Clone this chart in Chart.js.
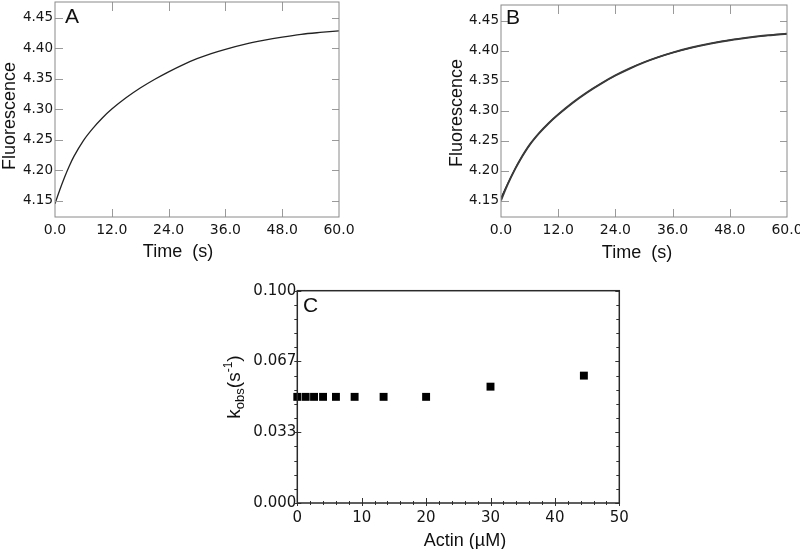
<!DOCTYPE html>
<html>
<head>
<meta charset="utf-8">
<script src="https://cdn.jsdelivr.net/npm/chart.js@4.4.1/dist/chart.umd.min.js"></script>
<style>
  html, body { margin: 0; padding: 0; background: #fff; }
  #wrap { position: relative; width: 800px; height: 549px; overflow: hidden; background: #fff; }
  canvas { position: absolute; }
</style>
</head>
<body>
<div id="wrap">
  <canvas id="cA" width="400" height="270" style="left:0px;top:0px;"></canvas>
  <canvas id="cB" width="400" height="270" style="left:400px;top:0px;"></canvas>
  <canvas id="cC" width="460" height="279" style="left:200px;top:270px;"></canvas>
</div>
<script>
// ---------------- DATA ----------------
// Panel A: fluorescence transient (time in s)
const timeA = [0, 1, 2, 3, 4, 6, 8, 10, 12, 15, 18, 21, 24, 27, 30, 33, 36, 40, 44, 48, 52, 56, 60];
const fluorA = [4.145, 4.1675, 4.188, 4.2065, 4.2225, 4.2485, 4.2685, 4.2855, 4.300, 4.3185, 4.3345, 4.3485, 4.361, 4.3725, 4.3825, 4.391, 4.398, 4.406, 4.4125, 4.418, 4.4225, 4.4255, 4.428];

// Panel B: data trace and fitted curve
const timeB = [0, 1, 2, 3, 4, 6, 8, 10, 12, 15, 18, 21, 24, 27, 30, 33, 36, 40, 44, 48, 52, 56, 60];
const fluorBData = [4.1505, 4.170, 4.1875, 4.2035, 4.218, 4.243, 4.2626, 4.2792, 4.2936, 4.3131, 4.3302, 4.3452, 4.3587, 4.3704, 4.3806, 4.3893, 4.3968, 4.4052, 4.412, 4.4176, 4.422, 4.4256, 4.4284];
const fluorBFit  = [4.155, 4.1715, 4.188, 4.2038, 4.218, 4.243, 4.2626, 4.2792, 4.2936, 4.3131, 4.3302, 4.3452, 4.3587, 4.3704, 4.3806, 4.3893, 4.3968, 4.4052, 4.412, 4.4176, 4.422, 4.4254, 4.428];

// Panel C: kobs vs actin
const actinC = [0, 1.3, 2.6, 4.0, 6.0, 8.9, 13.4, 20.0, 30.0, 44.5];
const kobsC  = [0.050, 0.050, 0.050, 0.050, 0.050, 0.050, 0.050, 0.050, 0.0548, 0.0600];

// Tick values and labels
const timeTicks = [0, 12, 24, 36, 48, 60];
const timeTickLabels = ['0.0', '12.0', '24.0', '36.0', '48.0', '60.0'];
const fluorTicks = [4.15, 4.20, 4.25, 4.30, 4.35, 4.40, 4.45];
const fluorTickLabels = ['4.15', '4.20', '4.25', '4.30', '4.35', '4.40', '4.45'];
const actinTicks = [0, 10, 20, 30, 40, 50];
const actinTickLabels = ['0', '10', '20', '30', '40', '50'];
const kobsTicks = [0, 1 / 30, 2 / 30, 0.1];
const kobsTickLabels = ['0.000', '0.033', '0.067', '0.100'];

// ---------------- PLUGINS ----------------
const framePlugin = {
  id: 'frame',
  afterDatasetsDraw(chart, args, o) {
    if (!o || !o.ticks) return;
    const ctx = chart.ctx, a = chart.chartArea;
    ctx.save();
    ctx.strokeStyle = o.tickColor;
    ctx.lineWidth = o.tickWidth;
    ctx.beginPath();
    for (const t of o.ticks) {
      const s = chart.scales[t.axis];
      for (const v of t.values) {
        const p = Math.round(s.getPixelForValue(v)) + 0.5;
        if (t.axis === 'x') {
          if (t.bottom) { ctx.moveTo(p, a.bottom + t.bottom[1]); ctx.lineTo(p, a.bottom - t.bottom[0]); }
          if (t.top) { ctx.moveTo(p, a.top - t.top[1]); ctx.lineTo(p, a.top + t.top[0]); }
        } else {
          if (t.left) { ctx.moveTo(a.left - t.left[1], p); ctx.lineTo(a.left + t.left[0], p); }
          if (t.right) { ctx.moveTo(a.right + t.right[1], p); ctx.lineTo(a.right - t.right[0], p); }
        }
      }
    }
    ctx.stroke();
    ctx.strokeStyle = o.color;
    ctx.lineWidth = o.width;
    ctx.strokeRect(a.left, a.top, a.right - a.left, a.bottom - a.top);
    ctx.restore();
  }
};

const textPlugin = {
  id: 'texts',
  afterDraw(chart, args, o) {
    if (!o || !o.items) return;
    const ctx = chart.ctx;
    for (const t of o.items) {
      ctx.save();
      ctx.translate(t.x, t.y);
      if (t.rot) ctx.rotate(t.rot);
      ctx.fillStyle = t.color || '#111';
      ctx.textBaseline = 'alphabetic';
      ctx.textAlign = 'left';
      const runs = t.runs || [{ text: t.text, font: t.font, dy: 0 }];
      let w = 0;
      runs.forEach(r => { ctx.font = r.font; w += ctx.measureText(r.text).width; });
      let cx = t.align === 'left' ? 0 : -w / 2;
      runs.forEach(r => { ctx.font = r.font; ctx.fillText(r.text, cx, r.dy || 0); cx += ctx.measureText(r.text).width; });
      ctx.restore();
    }
  }
};

Chart.register(framePlugin, textPlugin);
Chart.defaults.animation = false;
Chart.defaults.responsive = false;
Chart.defaults.devicePixelRatio = 1;
Chart.defaults.plugins.legend.display = false;
Chart.defaults.plugins.tooltip.enabled = false;

const TITLE_FONT = '18px "Liberation Sans", Arial, sans-serif';
const LETTER_FONT = '21px "Liberation Sans", Arial, sans-serif';
const TICK_FAMILY = '"DejaVu Sans", Verdana, sans-serif';

function fixedScale(values, labels, size, isX, extra, fontSize, pad) {
  return Object.assign({
    type: 'linear',
    afterBuildTicks: s => { s.ticks = values.map(v => ({ value: v })); },
    afterFit: s => {
      if (isX) s.height = size; else s.width = size;
      s.paddingTop = 0; s.paddingBottom = 0; s.paddingLeft = 0; s.paddingRight = 0;
    },
    grid: { display: false, drawTicks: false },
    border: { display: false },
    ticks: {
      autoSkip: false, maxRotation: 0, minRotation: 0,
      color: '#151515',
      padding: pad,
      font: { family: TICK_FAMILY, size: fontSize },
      callback: (v, i) => labels[i]
    }
  }, extra);
}

function pairs(xs, ys) { return xs.map((x, i) => ({ x: x, y: ys[i] })); }

// ---------------- PANEL A ----------------
new Chart(document.getElementById('cA'), {
  type: 'line',
  data: {
    datasets: [{
      data: pairs(timeA, fluorA),
      borderColor: '#222', borderWidth: 1.3, pointRadius: 0,
      cubicInterpolationMode: 'monotone', fill: false
    }]
  },
  options: {
    layout: { padding: { left: 0, right: 61, top: 2, bottom: 0 } },
    scales: {
      x: fixedScale(timeTicks, timeTickLabels, 53, true, { min: 0, max: 60 }, 14, 5),
      y: fixedScale(fluorTicks, fluorTickLabels, 55, false, { min: 4.1233, max: 4.4754 }, 13.5, 2)
    },
    plugins: {
      frame: {
        color: '#8a8a8a', width: 1, tickColor: '#9a9a9a', tickWidth: 1,
        ticks: [
          { axis: 'x', values: timeTicks.slice(1, -1), bottom: [8, 0], top: [9, 0] },
          { axis: 'y', values: fluorTicks, left: [8, 0], right: [7, 0] }
        ]
      },
      texts: {
        items: [
          { text: 'A', x: 65, y: 23, align: 'left', font: LETTER_FONT },
          { text: 'Fluorescence', x: 15, y: 116, rot: -Math.PI / 2, font: TITLE_FONT },
          { text: 'Time  (s)', x: 178, y: 257, font: TITLE_FONT }
        ]
      }
    }
  }
});

// ---------------- PANEL B ----------------
new Chart(document.getElementById('cB'), {
  type: 'line',
  data: {
    datasets: [
      {
        data: pairs(timeB, fluorBData),
        borderColor: '#3a3a3a', borderWidth: 2, pointRadius: 0,
        cubicInterpolationMode: 'monotone', fill: false
      },
      {
        data: pairs(timeB, fluorBFit),
        borderColor: '#000', borderWidth: 1.1, pointRadius: 0,
        cubicInterpolationMode: 'monotone', fill: false
      }
    ]
  },
  options: {
    layout: { padding: { left: 0, right: 13, top: 5, bottom: 0 } },
    scales: {
      x: fixedScale(timeTicks, timeTickLabels, 53, true, { min: 0, max: 60 }, 14, 5),
      y: fixedScale(fluorTicks, fluorTickLabels, 101, false, { min: 4.1228, max: 4.4762 }, 13.5, 2)
    },
    plugins: {
      frame: {
        color: '#8a8a8a', width: 1, tickColor: '#9a9a9a', tickWidth: 1,
        ticks: [
          { axis: 'x', values: timeTicks.slice(1, -1), bottom: [8, 0], top: [9, 0] },
          { axis: 'y', values: fluorTicks, left: [8, 0], right: [7, 0] }
        ]
      },
      texts: {
        items: [
          { text: 'B', x: 106, y: 24, align: 'left', font: LETTER_FONT },
          { text: 'Fluorescence', x: 62, y: 113, rot: -Math.PI / 2, font: TITLE_FONT },
          { text: 'Time  (s)', x: 237, y: 258, font: TITLE_FONT }
        ]
      }
    }
  }
});

// ---------------- PANEL C ----------------
const actinMinor = [];
for (let v = 2; v < 50; v += 2) if (v % 10 !== 0) actinMinor.push(v);
const kobsMinor = [];
for (let i = 1; i < 15; i++) if (i % 5 !== 0) kobsMinor.push(i / 150);

new Chart(document.getElementById('cC'), {
  type: 'scatter',
  data: {
    datasets: [{
      data: pairs(actinC, kobsC),
      pointStyle: 'rect', pointRadius: 5.6, backgroundColor: '#000',
      borderWidth: 0, clip: false
    }]
  },
  options: {
    layout: { padding: { left: 0, right: 40.7, top: 20.7, bottom: 0 } },
    scales: {
      x: fixedScale(actinTicks, actinTickLabels, 46, true, { min: 0, max: 50 }, 15, 6),
      y: fixedScale(kobsTicks, kobsTickLabels, 97.3, false, { min: 0, max: 0.1 }, 15, 1)
    },
    plugins: {
      frame: {
        color: '#2a2a2a', width: 1.5, tickColor: '#333', tickWidth: 1,
        ticks: [
          { axis: 'x', values: actinTicks, bottom: [5, 3] },
          { axis: 'x', values: actinMinor, bottom: [2, 2] },
          { axis: 'y', values: kobsTicks, left: [4, 3], right: [4, 0] },
          { axis: 'y', values: kobsMinor, left: [0, 3], right: [3, 0] }
        ]
      },
      texts: {
        items: [
          { text: 'C', x: 103, y: 42, align: 'left', font: LETTER_FONT },
          { x: 40, y: 117, rot: -Math.PI / 2, runs: [
            { text: 'k', font: '19px "Liberation Sans", Arial, sans-serif', dy: 0 },
            { text: 'obs', font: '13px "Liberation Sans", Arial, sans-serif', dy: 4 },
            { text: '(s', font: '19px "Liberation Sans", Arial, sans-serif', dy: 0 },
            { text: '-1', font: '12px "Liberation Sans", Arial, sans-serif', dy: -8 },
            { text: ')', font: '19px "Liberation Sans", Arial, sans-serif', dy: 0 }
          ] },
          { text: 'Actin (\u00b5M)', x: 265, y: 276, font: TITLE_FONT }
        ]
      }
    }
  }
});
</script>
</body>
</html>
